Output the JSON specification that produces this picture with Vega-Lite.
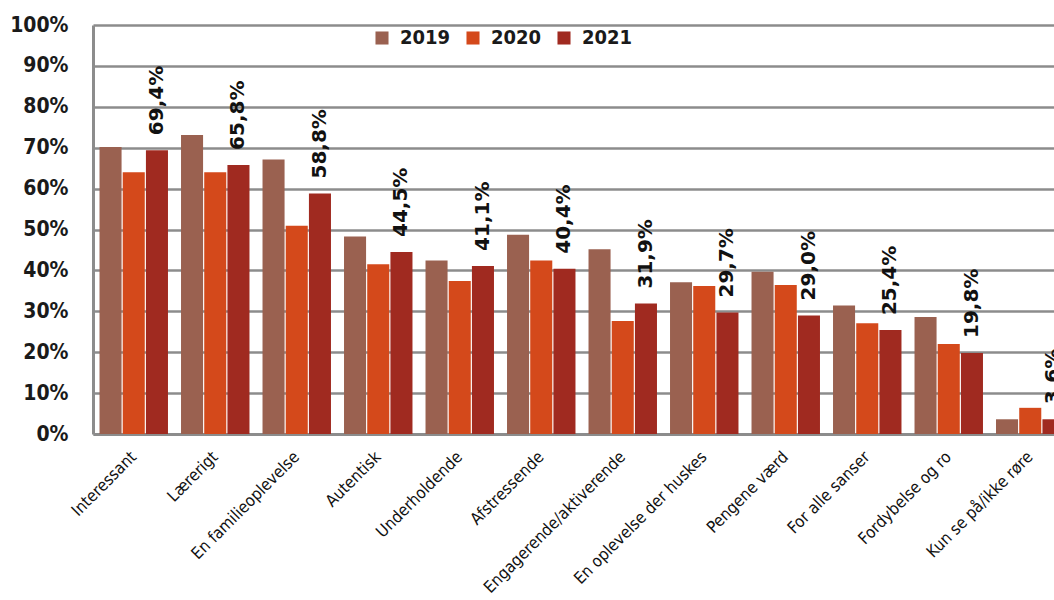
{
  "$schema": "https://vega.github.io/schema/vega-lite/v6.json",
  "autosize": {"type": "none"},
  "padding": {"left": 93, "top": 25, "right": -17, "bottom": 166},
  "width": 978,
  "height": 409,
  "background": "white",
  "data": {
    "values": [
      {"cat": "Interessant", "year": "2019", "v": 0.702},
      {"cat": "Interessant", "year": "2020", "v": 0.640},
      {"cat": "Interessant", "year": "2021", "v": 0.694},
      {"cat": "Lærerigt", "year": "2019", "v": 0.731},
      {"cat": "Lærerigt", "year": "2020", "v": 0.640},
      {"cat": "Lærerigt", "year": "2021", "v": 0.658},
      {"cat": "En familieoplevelse", "year": "2019", "v": 0.671},
      {"cat": "En familieoplevelse", "year": "2020", "v": 0.509},
      {"cat": "En familieoplevelse", "year": "2021", "v": 0.588},
      {"cat": "Autentisk", "year": "2019", "v": 0.483},
      {"cat": "Autentisk", "year": "2020", "v": 0.415},
      {"cat": "Autentisk", "year": "2021", "v": 0.445},
      {"cat": "Underholdende", "year": "2019", "v": 0.424},
      {"cat": "Underholdende", "year": "2020", "v": 0.374},
      {"cat": "Underholdende", "year": "2021", "v": 0.411},
      {"cat": "Afstressende", "year": "2019", "v": 0.487},
      {"cat": "Afstressende", "year": "2020", "v": 0.424},
      {"cat": "Afstressende", "year": "2021", "v": 0.404},
      {"cat": "Engagerende/aktiverende", "year": "2019", "v": 0.452},
      {"cat": "Engagerende/aktiverende", "year": "2020", "v": 0.276},
      {"cat": "Engagerende/aktiverende", "year": "2021", "v": 0.319},
      {"cat": "En oplevelse der huskes", "year": "2019", "v": 0.371},
      {"cat": "En oplevelse der huskes", "year": "2020", "v": 0.362},
      {"cat": "En oplevelse der huskes", "year": "2021", "v": 0.297},
      {"cat": "Pengene værd", "year": "2019", "v": 0.397},
      {"cat": "Pengene værd", "year": "2020", "v": 0.364},
      {"cat": "Pengene værd", "year": "2021", "v": 0.290},
      {"cat": "For alle sanser", "year": "2019", "v": 0.314},
      {"cat": "For alle sanser", "year": "2020", "v": 0.271},
      {"cat": "For alle sanser", "year": "2021", "v": 0.254},
      {"cat": "Fordybelse og ro", "year": "2019", "v": 0.286},
      {"cat": "Fordybelse og ro", "year": "2020", "v": 0.220},
      {"cat": "Fordybelse og ro", "year": "2021", "v": 0.198},
      {"cat": "Kun se på/ikke røre", "year": "2019", "v": 0.036},
      {"cat": "Kun se på/ikke røre", "year": "2020", "v": 0.064},
      {"cat": "Kun se på/ikke røre", "year": "2021", "v": 0.036}
    ]
  },
  "encoding": {
    "x": {
      "field": "cat", "type": "nominal", "sort": null, "title": null,
      "scale": {"paddingInner": 0.16, "paddingOuter": 0.08},
      "axis": {
        "labelAngle": -45, "labelAlign": "right", "labelBaseline": "middle",
        "labelFont": "DejaVu Sans Condensed, DejaVu Sans, sans-serif",
        "labelFontSize": 16.5, "labelColor": "#111",
        "labelPadding": 20, "ticks": false, "domainColor": "#8c8c8c", "domainWidth": 3,
        "labelLimit": 300
      }
    },
    "xOffset": {"field": "year", "type": "nominal", "scale": {"domain": ["2019", "2020", "2021"], "paddingInner": 0.05}},
    "y": {
      "field": "v", "type": "quantitative", "title": null,
      "scale": {"domain": [0, 1], "nice": false},
      "axis": {
        "values": [0, 0.1, 0.2, 0.3, 0.4, 0.5, 0.6, 0.7, 0.8, 0.9, 1.0],
        "format": ".0%", "labelFont": "DejaVu Sans Condensed, DejaVu Sans, sans-serif",
        "labelFontWeight": "bold", "labelFontSize": 21, "labelColor": "#1a1a1a",
        "labelPadding": 25, "ticks": false, "domainColor": "#8c8c8c", "domainWidth": 3,
        "grid": true, "gridColor": "#8c8c8c", "gridWidth": 2.5
      }
    }
  },
  "layer": [
    {
      "mark": {"type": "bar"},
      "encoding": {
        "color": {
          "field": "year", "type": "nominal", "title": null,
          "scale": {"domain": ["2019", "2020", "2021"], "range": ["#9A6150", "#D4491B", "#A02A20"]},
          "legend": {
            "orient": "none", "legendX": 279, "legendY": 3, "direction": "horizontal",
            "symbolType": "square", "symbolSize": 170, "symbolStrokeWidth": 0,
            "labelFont": "DejaVu Sans Condensed, DejaVu Sans, sans-serif",
            "labelFontWeight": "bold", "labelFontSize": 20, "labelColor": "#1a1a1a",
            "columnPadding": 12, "labelOffset": 8
          }
        }
      }
    },
    {
      "transform": [{"filter": "datum.year == '2021'"}],
      "mark": {"type": "text", "angle": -90, "align": "left", "baseline": "middle", "dx": 15,
               "font": "DejaVu Sans", "fontWeight": "bold", "fontSize": 20, "color": "#111"},
      "encoding": {
        "text": {"field": "v", "type": "quantitative", "format": ".1%"}
      }
    }
  ],
  "config": {
    "view": {"stroke": null},
    "locale": {"number": {"decimal": ",", "thousands": ".", "grouping": [3], "currency": ["", " kr."]}}
  }
}
